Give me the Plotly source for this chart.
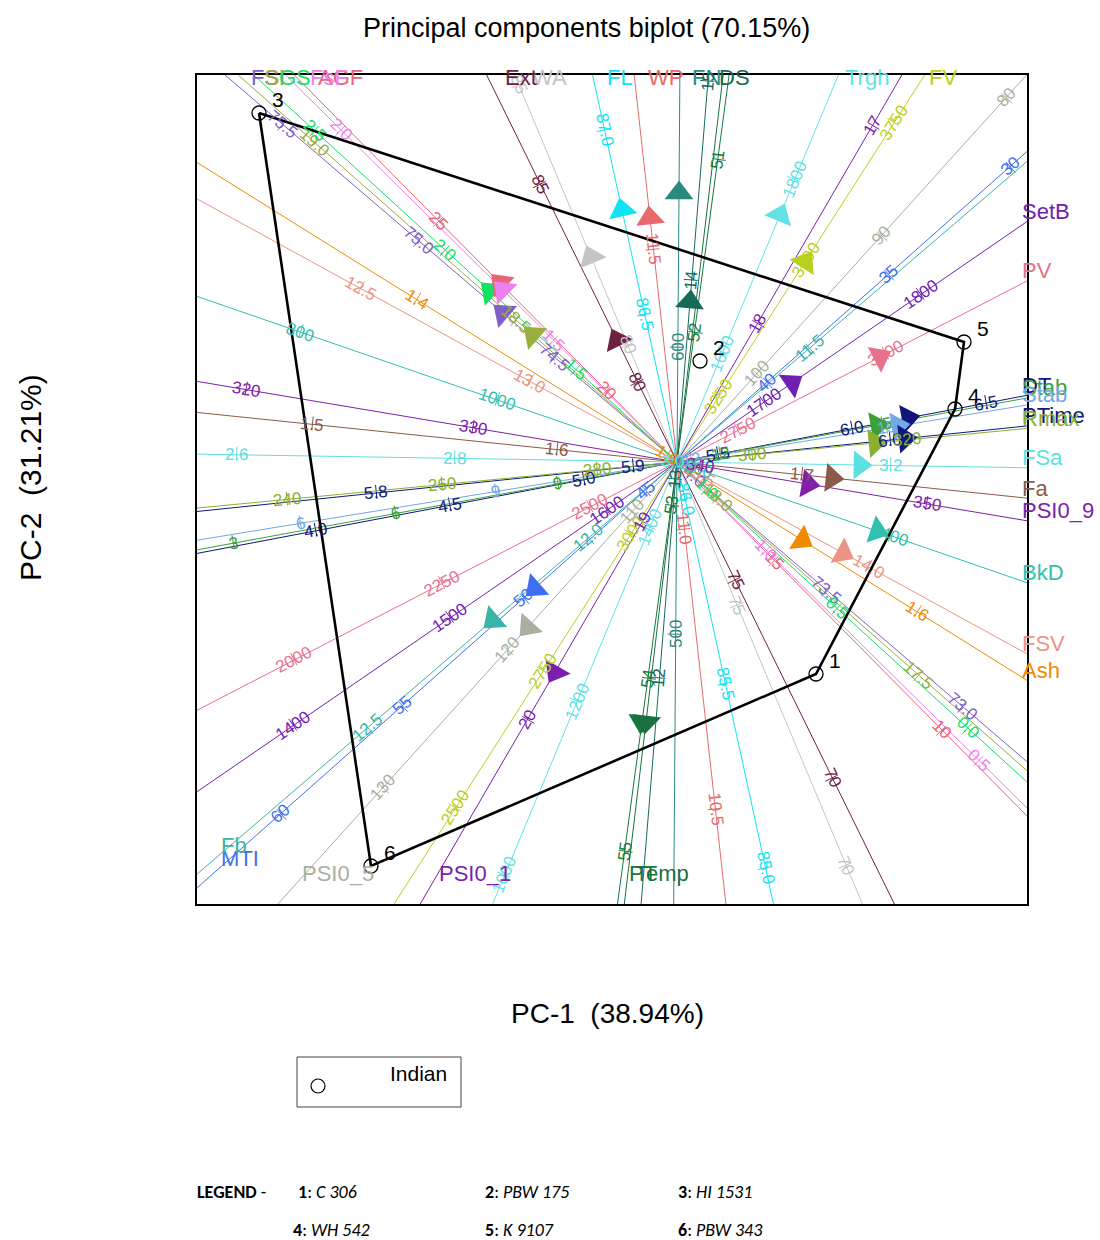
import math
import plotly.graph_objects as go

# ---------------- data ----------------
X_RANGE = [-4.80, 3.50]
Y_RANGE = [-4.42, 3.87]

trait_names = ["FSI", "SI", "GS", "AGF", "FsF", "Ash", "FSV", "BkD", "PSI0_9", "Fa",
               "FSa", "DT", "Stab", "Stab", "PTime", "Rmax", "SetB", "PV", "FV", "Trgh",
               "PSI0_5", "WA", "Ext", "FL", "WP", "FN", "DS", "PT", "Temp", "MTI",
               "Fb", "PSI0_1"]
trait_colors = ["#8060c8", "#9aad3f", "#13e065", "#ea6478", "#ee80ee", "#f08a00", "#eb9485",
                "#33bfae", "#8020a8", "#8c5a4a", "#5ee0e0", "#10157a", "#3aa03a", "#74a8e6",
                "#101880", "#8ab030", "#7020b0", "#e8708c", "#b8d020", "#62e2e6", "#a8b0a0",
                "#c4c4c4", "#6e2040", "#10e4f4", "#e86a6a", "#2a8a80", "#156a5a", "#137a3e",
                "#1a7040", "#3f6ff0", "#3ab4a8", "#7a1fae"]
# trait vectors (PC-1, PC-2)
load_pc1 = [-1.74, -1.44, -1.87, -1.77, -1.74, 1.25, 1.66, 2.00, 1.31, 1.55,
            1.83, 2.31, 2.00, 2.21, 2.28, 1.98, 1.15, 2.03, 1.28, 1.03,
            -1.49, -0.86, -0.60, -0.55, -0.27, 0.02, 0.13, -0.35, -0.31, -1.42,
            -1.84, -1.22]
load_pc2 = [1.49, 1.27, 1.71, 1.79, 1.72, -0.78, -0.91, -0.69, -0.22, -0.16,
            -0.03, 0.44, 0.366, 0.36, 0.235, 0.19, 0.79, 1.05, 2.00, 2.47,
            -1.65, 2.05, 1.22, 2.52, 2.44, 2.69, 1.60, -2.60, -2.60, -1.26,
            -1.58, -2.10]
# calibration of each biplot axis: value at the origin and axis length per value unit
calib_centre = [74.05, 18.10, 1.113, 17.9, 1.21, 1.504, 13.435, 1183, 339, 1.649,
                3.004, 5.347, 11.2, 11.78, 5.917, 290.3, 1644.6, 2647, 3131, 1475,
                106.4, 77.75, 77.98, 86.10, 11.12, 560, 13.085, 52.75, 0, 43.7,
                11.8, 18.7]
calib_scale = [3.58, 5.37, 3.54, 0.477, 5.98, 29.5, 3.86, 0.0104, 0.23, 24.6,
               10.9, 2.73, 0.55, 0.66, 25.83, 0.0779, 0.01903, 0.00666, 0.00651, 0.00942,
               0.186, 0.564, 0.441, 3.777, 5.63, 0.0287, 1.996, 1.745, 1.0, 0.325,
               5.825, 2.29]
tick_labels = [
    ["73.0", "73.5", "74.0", "74.5", "75.0", "75.5"],
    ["17.5", "18.0", "18.5", "19.0"],
    ["0.0", "0.5", "1.0", "1.5", "2.0", "2.5"],
    ["10", "15", "20", "25"],
    ["0.5", "1.0", "1.5", "2.0"],
    ["1.4", "1.5", "1.6"],
    ["12.5", "13.0", "13.5", "14.0"],
    ["800", "1000", "1200", "1400"],
    ["320", "330", "340", "350"],
    ["1.5", "1.6", "1.7"],
    ["2.6", "2.8", "3.0", "3.2"],
    ["4.0", "4.5", "5.0", "5.5", "6.0", "6.5"],
    ["3", "6", "9", "12", "15"],
    ["6", "9", "12", "15"],
    ["5.8", "5.9", "6.0"],
    ["240", "260", "280", "300", "320"],
    ["1400", "1500", "1600", "1700", "1800"],
    ["2000", "2250", "2500", "2750", "3000"],
    ["2500", "2750", "3000", "3250", "3500", "3750"],
    ["1000", "1200", "1400", "1600", "1800"],
    ["80", "90", "100", "110", "120", "130"],
    ["70", "75", "80", "85"],
    ["70", "75", "80", "85"],
    ["85.0", "85.5", "86.0", "86.5", "87.0"],
    ["10.5", "11.0", "11.5"],
    ["500", "600"],
    ["12", "13", "14", "15"],
    ["51", "52", "53", "54", "55"],
    [],
    ["30", "35", "40", "45", "50", "55", "60"],
    ["11.5", "12.0", "12.5"],
    ["17", "18", "19", "20"],
]

geno_ids = ["1", "2", "3", "4", "5", "6"]
geno_pc1 = [1.39, 0.23, -4.18, 2.78, 2.87, -3.06]
geno_pc2 = [-2.12, 1.01, 3.49, 0.53, 1.20, -4.04]
hull_order = ["3", "5", "4", "1", "6", "3"]

legend_rows = [["1", "C 306"], ["2", "PBW 175"], ["3", "HI 1531"],
               ["4", "WH 542"], ["5", "K 9107"], ["6", "PBW 343"]]

title_text = "Principal components biplot (70.15%)"
xlab = "PC-1  (38.94%)"
ylab = "PC-2  (31.21%)"
group_name = "Indian"

# ---------------- figure ----------------
W, H = 1100, 1240
ML, MR, MT, MB = 197, 73, 75, 336
PW, PH = W - ML - MR, H - MT - MB

fig = go.Figure()
annotations = []
xmin, xmax = X_RANGE
ymin, ymax = Y_RANGE


def exit_t(ux, uy):
    tx = (xmax / ux) if ux > 0 else ((xmin / ux) if ux < 0 else 1e9)
    ty = (ymax / uy) if uy > 0 else ((ymin / uy) if uy < 0 else 1e9)
    return (tx, "x") if tx < ty else (ty, "y")


def inside(x, y, m=0.0):
    return xmin + m <= x <= xmax - m and ymin + m <= y <= ymax - m


arrow_traces = []
for i, name in enumerate(trait_names):
    c = trait_colors[i]
    lx, ly = load_pc1[i], load_pc2[i]
    L = math.hypot(lx, ly)
    ux, uy = lx / L, ly / L
    tp, edge_p = exit_t(ux, uy)
    tn, _ = exit_t(-ux, -uy)
    fig.add_trace(go.Scatter(x=[-ux * tn, ux * tp], y=[-uy * tn, uy * tp], mode="lines",
                             line=dict(color=c, width=1), hoverinfo="skip"))
    theta = math.degrees(math.atan2(uy, ux))
    tang = -theta
    while tang > 90:
        tang -= 180
    while tang <= -90:
        tang += 180
    nx, ny = -uy, ux
    tx_, ty_ = [], []
    for lab in tick_labels[i]:
        v = float(lab)
        p = (v - calib_centre[i]) * calib_scale[i]
        px, py = ux * p, uy * p
        if not inside(px, py, 0.03):
            continue
        tx_ += [px - nx * 0.06, px + nx * 0.08, None]
        ty_ += [py - ny * 0.06, py + ny * 0.08, None]
        annotations.append(dict(x=px, y=py, xref="x", yref="y", text=lab, showarrow=False,
                                textangle=tang, font=dict(size=17, color=c,
                                                          family="Liberation Sans"),
                                xanchor="center", yanchor="middle"))
    if tx_:
        fig.add_trace(go.Scatter(x=tx_, y=ty_, mode="lines", line=dict(color=c, width=1),
                                 hoverinfo="skip"))
    arrow_traces.append(go.Scatter(x=[lx], y=[ly], mode="markers", hoverinfo="skip",
                                   marker=dict(symbol="triangle-up", size=25, color=c,
                                               angle=90 - theta, line=dict(width=0))))
    ex, ey = ux * tp, uy * tp
    lab_font = dict(size=22, color=c, family="Liberation Sans")
    if edge_p == "y" and uy > 0:
        sh = max(0.0, min(24.0, 10 - 12 * ux / uy))
        annotations.append(dict(x=ex, y=ymax, text=name, showarrow=False, xanchor="left",
                                yanchor="middle", xshift=sh, yshift=-2, font=lab_font))
    elif edge_p == "y":
        sh = max(0.0, min(26.0, 7 - 17 * ux / abs(uy)))
        annotations.append(dict(x=ex, y=ymin, text=name, showarrow=False, xanchor="left",
                                yanchor="middle", xshift=sh, yshift=31, font=lab_font))
    elif ux > 0:
        annotations.append(dict(x=xmax, y=ey, text=name, showarrow=False, xanchor="left",
                                yanchor="middle", xshift=-7, yshift=10, font=lab_font))
    else:
        annotations.append(dict(x=xmin, y=ey, text=name, showarrow=False, xanchor="left",
                                yanchor="middle", xshift=22, yshift=29, font=lab_font))

for tr in arrow_traces:
    fig.add_trace(tr)

# convex hull
gx = dict(zip(geno_ids, geno_pc1))
gy = dict(zip(geno_ids, geno_pc2))
fig.add_trace(go.Scatter(x=[gx[k] for k in hull_order], y=[gy[k] for k in hull_order],
                         mode="lines", line=dict(color="black", width=2.6), hoverinfo="skip"))
fig.add_trace(go.Scatter(x=geno_pc1, y=geno_pc2, mode="markers", hoverinfo="skip",
                         marker=dict(symbol="circle-open", size=14, color="black",
                                     line=dict(width=1.3, color="black"))))
for k in geno_ids:
    annotations.append(dict(x=gx[k], y=gy[k], text=k, showarrow=False, xshift=19, yshift=14,
                            font=dict(size=21, color="black", family="Liberation Sans")))


def paper(px, py):
    return (px - ML) / PW, (H - MB - py) / PH


# titles
x0, y0 = paper(586, 28)
annotations.append(dict(x=x0, y=y0, xref="paper", yref="paper", text=title_text, showarrow=False,
                        font=dict(size=27, family="Liberation Sans", color="black"),
                        xanchor="center", yanchor="middle"))
x0, y0 = paper(607, 1013)
annotations.append(dict(x=x0, y=y0, xref="paper", yref="paper", text=xlab, showarrow=False,
                        font=dict(size=28, family="Liberation Sans", color="black"),
                        xanchor="center", yanchor="middle"))
x0, y0 = paper(30, 478)
annotations.append(dict(x=x0, y=y0, xref="paper", yref="paper", text=ylab, showarrow=False,
                        textangle=-90,
                        font=dict(size=30, family="Liberation Sans", color="black"),
                        xanchor="center", yanchor="middle"))

# group legend box
bx0, by0 = paper(297, 1107)
bx1, by1 = paper(461, 1057)
shapes = [dict(type="rect", xref="paper", yref="paper", x0=bx0, y0=by0, x1=bx1, y1=by1,
               line=dict(color="#444", width=1))]
cx, cy = paper(318, 1086)
cr_x, cr_y = 7 / PW, 7 / PH
shapes.append(dict(type="circle", xref="paper", yref="paper", x0=cx - cr_x, x1=cx + cr_x,
                   y0=cy - cr_y, y1=cy + cr_y, line=dict(color="black", width=1.2)))
x0, y0 = paper(418, 1073)
annotations.append(dict(x=x0, y=y0, xref="paper", yref="paper", text=group_name, showarrow=False,
                        font=dict(size=21, family="Liberation Sans", color="black"),
                        xanchor="center", yanchor="middle"))

# genotype key
leg_font = dict(size=18, family="Carlito, Liberation Sans", color="black")
x0, y0 = paper(195, 1192)
annotations.append(dict(x=x0, y=y0, xref="paper", yref="paper", text="<b>LEGEND</b> -",
                        showarrow=False, font=leg_font, xanchor="left", yanchor="middle"))
col_x = [[296, 483, 676], [291, 483, 676]]
row_y = [1192, 1230]
for j, (num, gname) in enumerate(legend_rows):
    r, cidx = divmod(j, 3)
    x0, y0 = paper(col_x[r][cidx], row_y[r])
    annotations.append(dict(x=x0, y=y0, xref="paper", yref="paper",
                            text="<b>%s</b>: <i>%s</i>" % (num, gname), showarrow=False,
                            font=leg_font, xanchor="left", yanchor="middle"))

axis_common = dict(showgrid=False, zeroline=False, showticklabels=False, ticks="",
                   showline=True, mirror=True, linecolor="black", linewidth=2)
fig.update_layout(
    width=W, height=H, autosize=False,
    margin=dict(l=ML, r=MR, t=MT, b=MB, pad=0),
    paper_bgcolor="white", plot_bgcolor="white",
    showlegend=False,
    xaxis=dict(range=X_RANGE, **axis_common),
    yaxis=dict(range=Y_RANGE, **axis_common),
    annotations=annotations,
    shapes=shapes,
)

fig.write_html("out.html", config={"displayModeBar": False},
               post_script="document.body.style.margin='0px';document.body.style.padding='0px';")
